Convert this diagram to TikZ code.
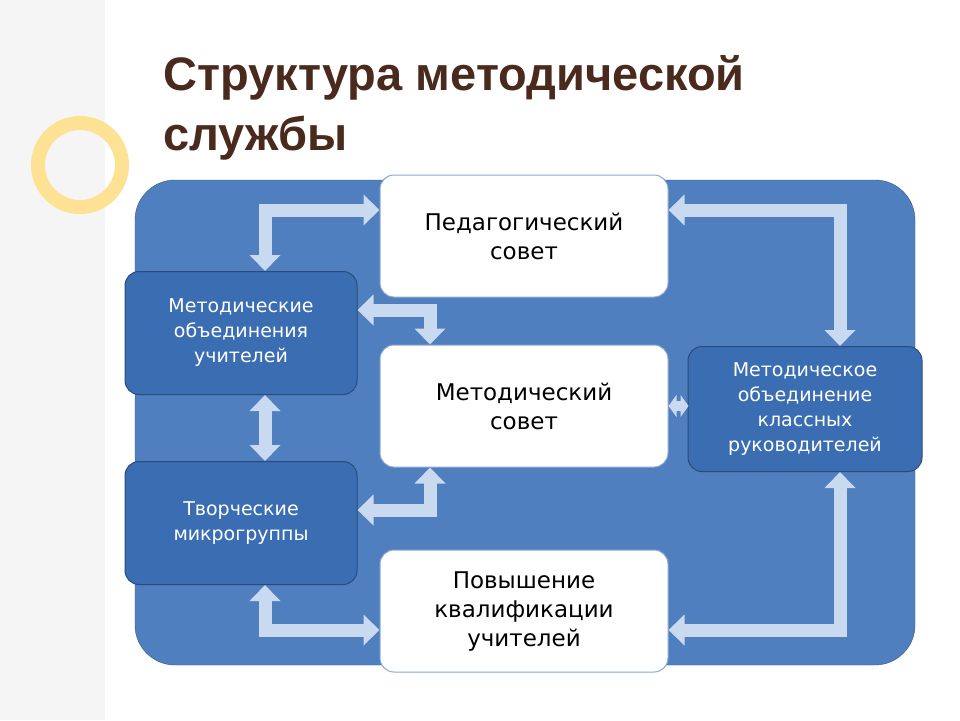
\documentclass[tikz,border=0pt]{standalone}
\usepackage{fontspec}
\setmainfont{DejaVu Sans}
\newfontfamily\titlefont{Liberation Sans}
\usetikzlibrary{arrows.meta}
\definecolor{bgblue}{HTML}{4F7FBE}
\definecolor{boxblue}{HTML}{3B6DB3}
\definecolor{arr}{HTML}{C9D9F0}
\definecolor{ttl}{HTML}{4A2A1C}
\begin{document}
\begin{tikzpicture}[x=1pt,y=-1pt,
  wbox/.style={draw=boxblue!60,line width=1pt,fill=white,rounded corners=14pt,minimum width=288pt,minimum height=122pt,align=center,font=\fontsize{23}{29}\selectfont,text=black},
  bbox/.style={draw=boxblue!70!black,line width=1pt,fill=boxblue,rounded corners=14pt,minimum width=232pt,minimum height=123pt,align=center,font=\fontsize{19}{25}\selectfont,text=white},
  conn/.style={line width=13pt,draw=arr,{Triangle[length=16pt,width=30pt]}-{Triangle[length=16pt,width=30pt]}}]
\useasboundingbox (0,0) rectangle (960,720);
\fill[white] (0,0) rectangle (960,720);
\fill[gray!8] (0,0) rectangle (105,720);
\draw[line width=14pt,color=yellow!50!orange!40] (80,165) circle (42);
\node[anchor=west,font=\titlefont\bfseries\fontsize{47}{60}\selectfont,text=ttl,align=left] (title) at (160,108) {Структура методической\\службы};
\fill[bgblue,rounded corners=40pt,draw=bgblue!70!black] (135,180) rectangle (915,665);
\node[wbox] (ps) at (524,236) {Педагогический\\совет};
\node[wbox] (ms) at (524,406) {Методический\\совет};
\node[wbox] (pk) at (524,611) {Повышение\\квалификации\\учителей};
\node[bbox] (mo) at (241,333) {Методические\\объединения\\учителей};
\node[bbox] (tm) at (241,523) {Творческие\\микрогруппы};
\node[bbox,minimum width=234pt,minimum height=125pt] (mk) at (805,409) {Методическое\\объединение\\классных\\руководителей};
\draw[conn] (ps.west|-0,210) -| (mo.north-|265,0);
\draw[conn] (ps.east|-0,210) -| (mk.north-|840,0);
\draw[conn] (mo.east|-0,310) -| (ms.north-|430,0);
\draw[conn] (mo.south-|265,0) -- (tm.north-|265,0);
\draw[conn] (tm.east|-0,510) -| (ms.south-|430,0);
\fill[arr] (ms.east) -- ++(8,-11) -- ++(0,6) -- ++(4,0) -- ++(0,-6) -- ++(8,11) -- ++(-8,11) -- ++(0,-6) -- ++(-4,0) -- ++(0,6) -- cycle;
\draw[conn] (tm.south-|265,0) |- (pk.west|-0,630);
\draw[conn] (pk.east|-0,630) -| (mk.south-|840,0);
\end{tikzpicture}
\end{document}
